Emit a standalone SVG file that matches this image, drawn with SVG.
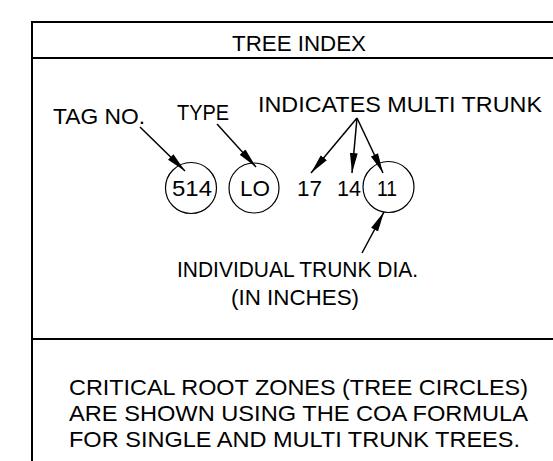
<svg xmlns="http://www.w3.org/2000/svg" width="553" height="461" viewBox="0 0 553 461">
<style>
.frame{stroke:#000;stroke-width:2;fill:none}
.t{font-family:"Liberation Sans",Arial,sans-serif;font-size:22px;fill:#000}
.c{stroke:#000;stroke-width:1.2;fill:none}
.a{stroke:#000;stroke-width:1.5;fill:none;marker-end:url(#ah)}
</style>
<defs>
<marker id="ah" markerUnits="userSpaceOnUse" markerWidth="20" markerHeight="10" viewBox="0 -4 18 8" refX="18" refY="0" orient="auto">
<path d="M0,-3.5 L18,0 L0,3.5 z" fill="#000"/>
</marker>
</defs>
<rect width="553" height="461" fill="#fff"/>
<g id="frame">
<path class="frame" d="M32,461 V22 H553 M32,58 H553 M32,339 H553"/>
</g>
<g id="title"><text class="t" x="232" y="51" textLength="134" lengthAdjust="spacingAndGlyphs">TREE INDEX</text></g>
<g id="tag-label"><text class="t" x="53" y="124" textLength="92" lengthAdjust="spacingAndGlyphs">TAG NO.</text></g>
<g id="type-label"><text class="t" x="177" y="120" textLength="52" lengthAdjust="spacingAndGlyphs">TYPE</text></g>
<g id="multi-label"><text class="t" x="258" y="112" textLength="284" lengthAdjust="spacingAndGlyphs">INDICATES MULTI TRUNK</text></g>
<g id="tag-514"><circle class="c" cx="191" cy="188" r="25.5"/><text class="t" x="172" y="196" textLength="40" lengthAdjust="spacingAndGlyphs">514</text></g>
<g id="type-lo"><circle class="c" cx="254" cy="188" r="25"/><text class="t" x="240" y="196" textLength="30" lengthAdjust="spacingAndGlyphs">LO</text></g>
<g id="trunk-17"><text class="t" x="297" y="196" textLength="25" lengthAdjust="spacingAndGlyphs">17</text></g>
<g id="trunk-14"><text class="t" x="337" y="196" textLength="24" lengthAdjust="spacingAndGlyphs">14</text></g>
<g id="trunk-11"><circle class="c" cx="388.5" cy="187" r="25.5"/><text class="t" x="377" y="196" textLength="20" lengthAdjust="spacingAndGlyphs">11</text></g>
<g id="dia-label">
<text class="t" x="177" y="277" textLength="241" lengthAdjust="spacingAndGlyphs">INDIVIDUAL TRUNK DIA.</text>
<text class="t" x="231" y="305" textLength="128" lengthAdjust="spacingAndGlyphs">(IN INCHES)</text>
</g>
<g id="note">
<text class="t" x="69" y="395" textLength="459" lengthAdjust="spacingAndGlyphs">CRITICAL ROOT ZONES (TREE CIRCLES)</text>
<text class="t" x="69" y="421" textLength="459" lengthAdjust="spacingAndGlyphs">ARE SHOWN USING THE COA FORMULA</text>
<text class="t" x="69" y="447" textLength="451" lengthAdjust="spacingAndGlyphs">FOR SINGLE AND MULTI TRUNK TREES.</text>
</g>
<g id="connectors">
<path class="a" d="M140,127 L185,171"/>
<path class="a" d="M217,124 L256,167"/>
<path class="a" d="M357,118 L311,173"/>
<path class="a" d="M357,118 L352,173"/>
<path class="a" d="M357,118 L383,173"/>
<path class="a" d="M362,253 L384,212"/>
</g>
</svg>
